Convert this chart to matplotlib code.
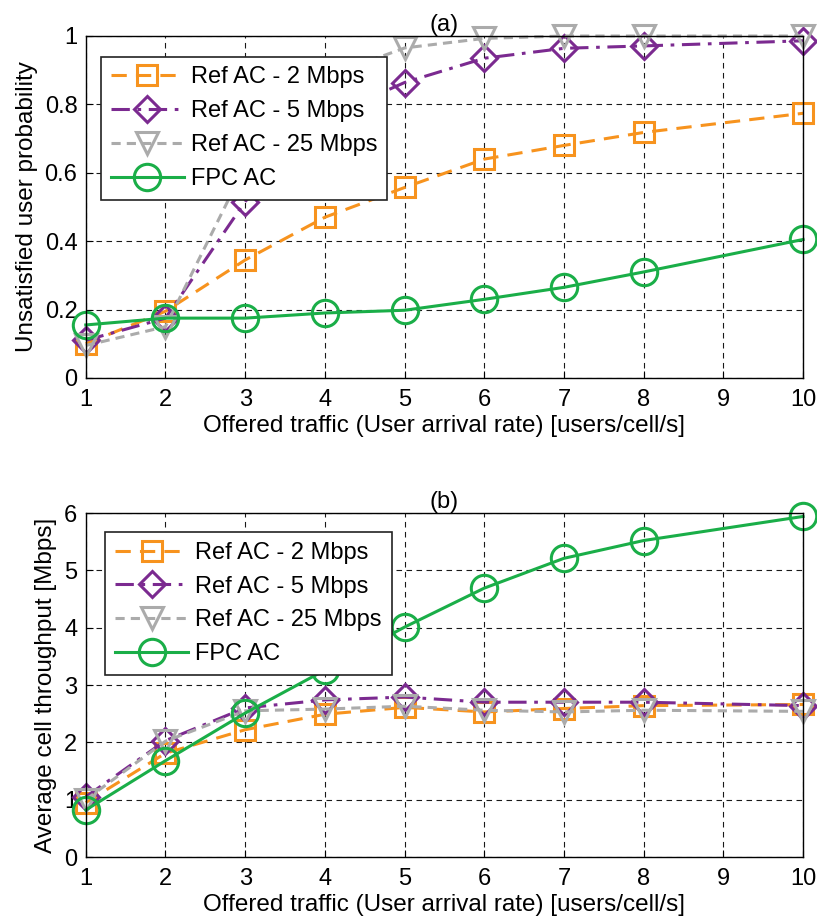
import matplotlib.pyplot as plt
from matplotlib.ticker import FuncFormatter

plt.rcParams["font.family"] = ["Liberation Sans Narrow", "Liberation Sans", "DejaVu Sans"]
plt.rcParams["xtick.labelsize"] = 17
plt.rcParams["ytick.labelsize"] = 17

traffic = [1, 2, 3, 4, 5, 6, 7, 8, 10]

# (a) unsatisfied user probability
unsat_2 = [0.10, 0.195, 0.345, 0.47, 0.557, 0.64, 0.68, 0.718, 0.774]
unsat_5 = [0.11, 0.175, 0.516, 0.76, 0.864, 0.935, 0.964, 0.971, 0.986]
unsat_25 = [0.095, 0.15, 0.62, 0.88, 0.965, 0.993, 1.0, 1.0, 1.0]
unsat_fpc = [0.155, 0.175, 0.175, 0.19, 0.198, 0.23, 0.265, 0.31, 0.405]

# (b) average cell throughput
thr_2 = [0.95, 1.81, 2.22, 2.49, 2.61, 2.53, 2.59, 2.64, 2.66]
thr_5 = [1.05, 2.03, 2.60, 2.74, 2.79, 2.70, 2.70, 2.70, 2.64]
thr_25 = [1.00, 2.02, 2.55, 2.58, 2.63, 2.56, 2.53, 2.56, 2.54]
thr_fpc = [0.82, 1.68, 2.51, 3.26, 4.01, 4.69, 5.21, 5.52, 5.94]

labels = ["Ref AC - 2 Mbps", "Ref AC - 5 Mbps", "Ref AC - 25 Mbps", "FPC AC"]
styles = [
    dict(color="#F7931E", linestyle=(0, (5, 3)), marker="s", markersize=14),
    dict(color="#7B2A90", linestyle=(0, (6, 2.5, 1.2, 2.5)), marker="D", markersize=13),
    dict(color="#ABABAB", linestyle=(0, (3, 2)), marker="v", markersize=16),
    dict(color="#1AAE48", linestyle="solid", marker="o", markersize=19),
]


def tick_fmt(v, pos):
    return "{:g}".format(round(v, 2))


fig = plt.figure(figsize=(8.17, 9.23), dpi=100)
ax1 = fig.add_axes([0.105, 0.5905, 0.878, 0.3705])
ax2 = fig.add_axes([0.105, 0.0715, 0.878, 0.3727])

panels = [
    (ax1, [unsat_2, unsat_5, unsat_25, unsat_fpc], (0, 1), [0, 0.2, 0.4, 0.6, 0.8, 1.0],
     "Unsatisfied user probability", "(a)", (0.021, 0.94)),
    (ax2, [thr_2, thr_5, thr_25, thr_fpc], (0, 6), [0, 1, 2, 3, 4, 5, 6],
     "Average cell throughput [Mbps]", "(b)", (0.027, 0.945)),
]

for ax, series, ylim, yticks, ylabel, title, anchor in panels:
    for ys, lab, st in zip(series, labels, styles):
        ax.plot(traffic, ys, lw=2.2, markerfacecolor="none", markeredgewidth=2.2,
                label=lab, clip_on=False, **st)
    ax.set_xlim(1, 10)
    ax.set_ylim(*ylim)
    ax.set_xticks(range(1, 11))
    ax.set_yticks(yticks)
    ax.yaxis.set_major_formatter(FuncFormatter(tick_fmt))
    ax.grid(True, color="black", linestyle=(0, (5, 4)), linewidth=0.8, alpha=0.9)
    ax.tick_params(direction="in", length=5, width=0.8, pad=6)
    ax.tick_params(axis="x", pad=8)
    for sp in ax.spines.values():
        sp.set_linewidth(1.0)
    ax.set_ylabel(ylabel, fontsize=17.5, labelpad=5)
    ax.set_xlabel("Offered traffic (User arrival rate) [users/cell/s]", fontsize=17.5, labelpad=3)
    ax.set_title(title, fontsize=17, pad=3)
    leg = ax.legend(loc="upper left", bbox_to_anchor=anchor, fontsize=17, frameon=True,
                    fancybox=False, edgecolor="#222222", framealpha=1, handlelength=3.1,
                    handletextpad=0.3, borderpad=0.42, labelspacing=0.5, borderaxespad=0)
    leg.get_frame().set_linewidth(1.2)
    leg.set_zorder(5)

fig.savefig("out.png", dpi=100)
